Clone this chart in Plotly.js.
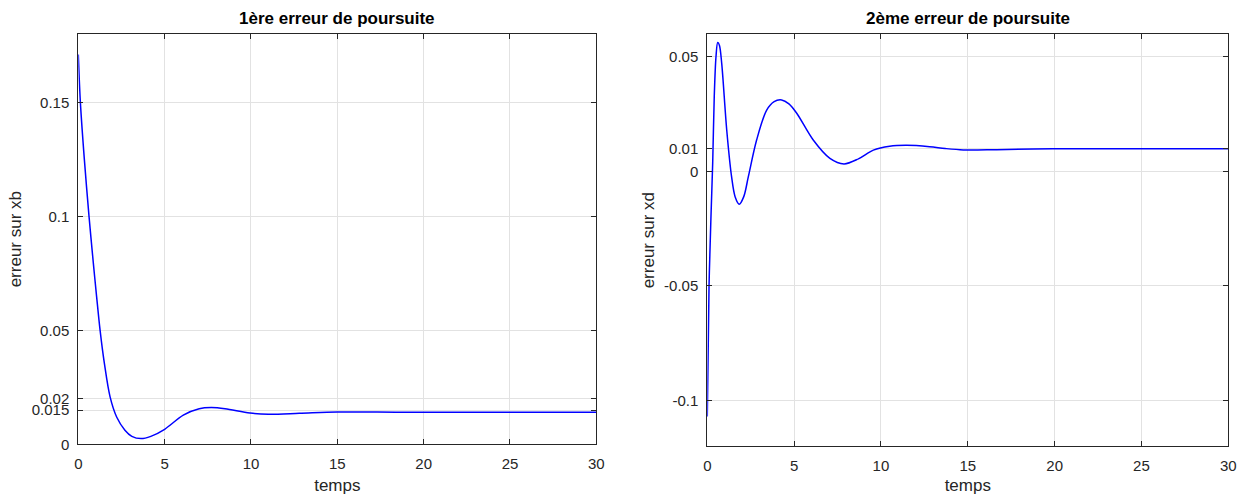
<!DOCTYPE html>
<html>
<head>
<meta charset="utf-8">
<script src="https://cdn.plot.ly/plotly-3.0.1.min.js"></script>
<style>html,body{margin:0;padding:0;background:#fff;}#chart{width:1247px;height:495px;}</style>
</head>
<body>
<div id="chart"></div>
<script>
// Left: 1ère erreur de poursuite (erreur sur xb)
var t1 = [0, 0.12, 0.35, 0.62, 0.87, 1.06, 1.26, 1.51, 1.84, 2.22, 2.7, 3.1, 3.63, 4.2, 5.0, 6.08, 7.0, 7.7, 8.5, 9.94, 11.0, 12.8, 15.0, 18.6, 22, 26, 30];
var e1 = [0.171, 0.15, 0.125, 0.1, 0.0795, 0.0648, 0.0501, 0.0355, 0.0208, 0.012, 0.0062, 0.0035, 0.0025, 0.0035, 0.0066, 0.0128, 0.0156, 0.0161, 0.0156, 0.0137, 0.0132, 0.0136, 0.0142, 0.0141, 0.0141, 0.0141, 0.0141];
// Right: 2ème erreur de poursuite (erreur sur xd)
var t2 = [0, 0.1, 0.21, 0.31, 0.4, 0.5, 0.6, 0.7, 0.83, 1.12, 1.4, 1.6, 1.84, 2.1, 2.36, 2.84, 3.42, 3.85, 4.28, 4.7, 5.15, 6.1, 7.06, 7.87, 8.7, 9.56, 10.5, 11.48, 12.8, 13.7, 14.74, 16.66, 19.9, 25, 30];
var e2 = [-0.107, -0.05, -0.02, 0.0035, 0.0326, 0.050, 0.0563, 0.055, 0.0472, 0.018, -0.0024, -0.011, -0.0143, -0.011, -0.0024, 0.0137, 0.0268, 0.0305, 0.0312, 0.0295, 0.0254, 0.0137, 0.0057, 0.0033, 0.0055, 0.0093, 0.0110, 0.0114, 0.0108, 0.0100, 0.0094, 0.0095, 0.0099, 0.0099, 0.0099];

var xTicks = [0, 5, 10, 15, 20, 25, 30];
var y1Ticks = [0, 0.015, 0.02, 0.05, 0.1, 0.15];
var y1Labels = ['0', '0.015', '0.02', '0.05', '0.1', '0.15'];
var y2Ticks = [-0.1, -0.05, 0, 0.01, 0.05];
var y2Labels = ['-0.1', '-0.05', '0', '0.01', '0.05'];

var titles = ['1ère erreur de poursuite', '2ème erreur de poursuite'];
var xTitle = 'temps';
var yTitles = ['erreur sur xb', 'erreur sur xd'];

var lineStyle = {color: '#0000ff', width: 1.5, shape: 'spline', smoothing: 0.9};
var traces = [
  {x: t1, y: e1, type: 'scatter', mode: 'lines', line: lineStyle, xaxis: 'x', yaxis: 'y', hoverinfo: 'skip'},
  {x: t2, y: e2, type: 'scatter', mode: 'lines', line: lineStyle, xaxis: 'x2', yaxis: 'y2', hoverinfo: 'skip'}
];

var FAM = 'Liberation Sans, Arial, sans-serif';
var tickFont = {family: FAM, size: 15, color: '#262626'};
var labFont = {family: FAM, size: 17, color: '#262626'};
function ax(extra) {
  var base = {
    showline: true, linecolor: '#262626', linewidth: 1, mirror: 'ticks',
    ticks: 'inside', ticklen: 5, tickwidth: 1, tickcolor: '#262626',
    showgrid: true, gridcolor: '#e2e2e2', gridwidth: 1, zeroline: false,
    tickfont: tickFont, fixedrange: true
  };
  for (var k in extra) base[k] = extra[k];
  return base;
}

var layout = {
  width: 1247, height: 495,
  margin: {l: 0, r: 0, t: 0, b: 0},
  paper_bgcolor: '#ffffff', plot_bgcolor: '#ffffff',
  showlegend: false,
  xaxis: ax({domain: [0.0628, 0.4782], range: [0, 30], tickmode: 'array', tickvals: xTicks, anchor: 'y',
             ticklabelstandoff: 6, title: {text: xTitle, font: labFont, standoff: 7}}),
  yaxis: ax({domain: [0.1024, 0.9313], range: [0, 0.18], tickmode: 'array', tickvals: y1Ticks, ticktext: y1Labels, anchor: 'x',
             ticklabelstandoff: 5, title: {text: yTitles[0], font: labFont, standoff: 5}}),
  xaxis2: ax({domain: [0.5672, 0.985], range: [0, 30], tickmode: 'array', tickvals: xTicks, anchor: 'y2',
             ticklabelstandoff: 6, title: {text: xTitle, font: labFont, standoff: 7}}),
  yaxis2: ax({domain: [0.0984, 0.9313], range: [-0.12, 0.06], tickmode: 'array', tickvals: y2Ticks, ticktext: y2Labels, anchor: 'x2',
             ticklabelstandoff: 5, title: {text: yTitles[1], font: labFont, standoff: 5}}),
  annotations: [
    {text: '<b>' + titles[0] + '</b>', xref: 'paper', yref: 'paper', x: (0.0628 + 0.4782) / 2, y: 1 - 18 / 495,
     xanchor: 'center', yanchor: 'middle', showarrow: false, font: {family: FAM, size: 17, color: '#000'}},
    {text: '<b>' + titles[1] + '</b>', xref: 'paper', yref: 'paper', x: (0.5672 + 0.985) / 2, y: 1 - 18 / 495,
     xanchor: 'center', yanchor: 'middle', showarrow: false, font: {family: FAM, size: 17, color: '#000'}}
  ]
};

Plotly.newPlot('chart', traces, layout, {staticPlot: true, displayModeBar: false});
</script>
</body>
</html>
